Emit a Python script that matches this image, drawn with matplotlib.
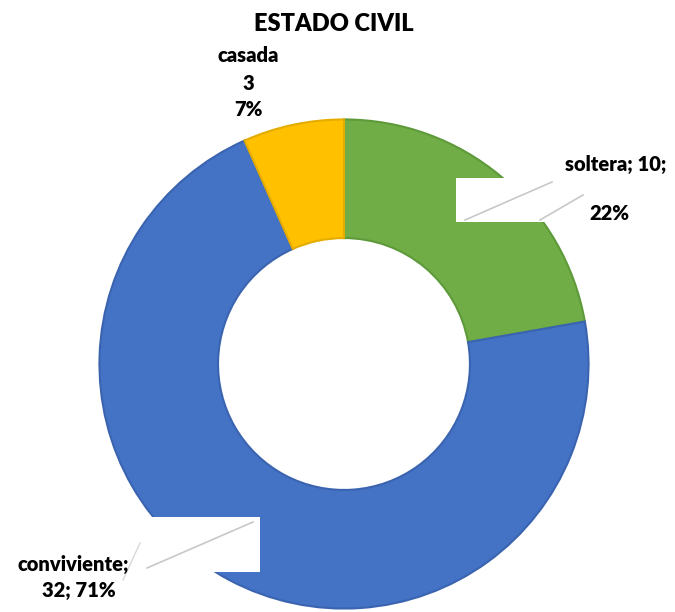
import matplotlib
matplotlib.use("Agg")
import matplotlib.pyplot as plt
from matplotlib.patches import Rectangle

categories = ["soltera", "conviviente", "casada"]
values = [10, 32, 3]
percents = ["22%", "71%", "7%"]
colors = ["#70AD47", "#4472C4", "#FFC000"]
edge_colors = ["#5E9A3A", "#3A64B0", "#E5AC00"]

plt.rcParams['font.family'] = ['Lato', 'DejaVu Sans']

W, H = 675, 612
fig = plt.figure(figsize=(W / 100, H / 100), dpi=100)

cx, cy, R = 344, 364, 247
ax = fig.add_axes([(cx - R) / W, (H - cy - R) / H, 2 * R / W, 2 * R / H])
wedges, _ = ax.pie(values, colors=colors, startangle=90, counterclock=False,
                   radius=1.0, wedgeprops=dict(width=0.485, linewidth=1.5))
for w, ec in zip(wedges, edge_colors):
    w.set_edgecolor(ec)
ax.set_xlim(-1.01, 1.01)
ax.set_ylim(-1.01, 1.01)
ax.axis("off")

ov = fig.add_axes([0, 0, 1, 1])
ov.set_xlim(0, W)
ov.set_ylim(H, 0)
ov.axis("off")
ov.patch.set_alpha(0)

fs = 14.5
fw = "heavy"
ov.text(334, 24, "ESTADO CIVIL", ha="center", va="center", fontsize=17, fontweight=fw)

# casada label
ov.text(248, 55, categories[2], ha="center", va="center", fontsize=fs, fontweight=fw)
ov.text(248, 84, str(values[2]), ha="center", va="center", fontsize=fs, fontweight=fw)
ov.text(248, 110, percents[2], ha="center", va="center", fontsize=fs, fontweight=fw)

# soltera label with box artifacts
ov.add_patch(Rectangle((456, 178), 98, 44, facecolor="white", edgecolor="none", zorder=3))
ov.plot([465, 552], [220, 182], color="#c8c8c8", lw=1.2, zorder=4)
ov.plot([540, 583], [220, 195], color="#c8c8c8", lw=1.2, zorder=4)
ov.text(616, 165, f"{categories[0]}; {values[0]};", ha="center", va="center", fontsize=fs, fontweight=fw, zorder=5)
ov.text(609, 214, percents[0], ha="center", va="center", fontsize=fs, fontweight=fw, zorder=5)

# conviviente label with box artifacts
ov.add_patch(Rectangle((142, 517), 118, 55, facecolor="white", edgecolor="none", zorder=3))
ov.plot([147, 253], [568, 522], color="#c8c8c8", lw=1.2, zorder=4)
ov.plot([123, 140], [580, 543], color="#d8d8d8", lw=1.0, zorder=4)
ov.text(73, 565, f"{categories[1]};", ha="center", va="center", fontsize=fs, fontweight=fw, zorder=5)
ov.text(79, 591, f"{values[1]}; {percents[1]}", ha="center", va="center", fontsize=fs, fontweight=fw, zorder=5)

fig.savefig("out.png", dpi=100, facecolor="white")
